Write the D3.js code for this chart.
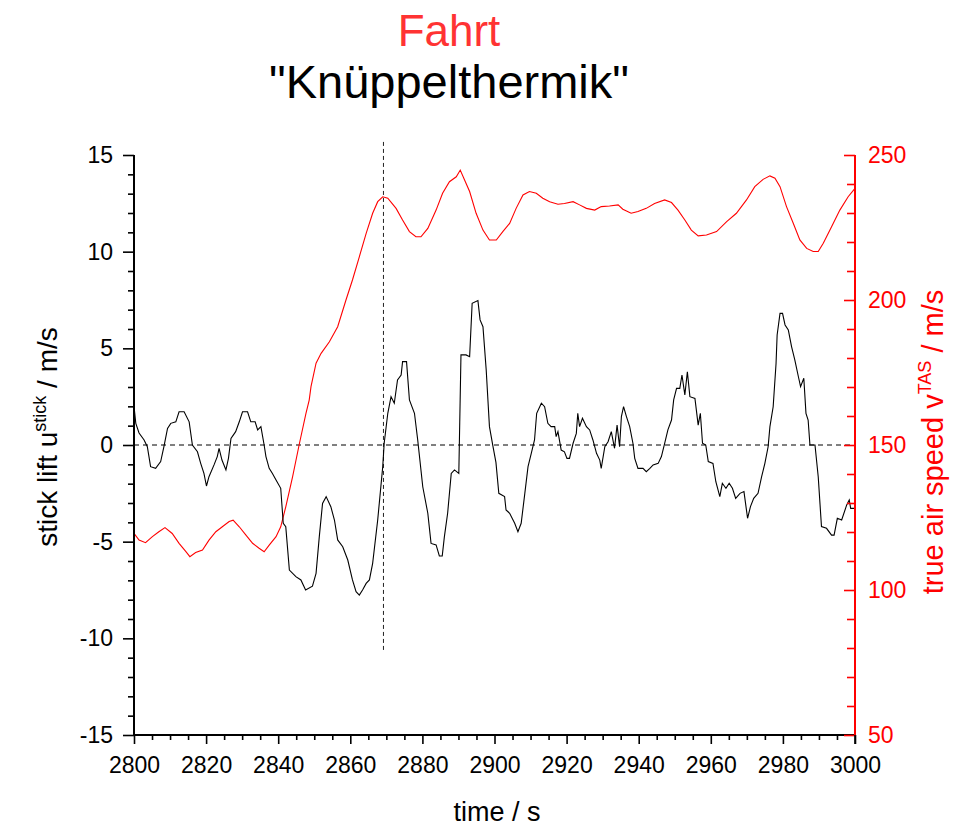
<!DOCTYPE html>
<html>
<head>
<meta charset="utf-8">
<script src="https://cdn.jsdelivr.net/npm/d3@7"></script>
<style>
  html, body { margin: 0; padding: 0; background: #fff; }
  svg { display: block; font-family: Arial, "Liberation Sans", sans-serif; }
</style>
</head>
<body>
<svg id="chart" width="953" height="827"></svg>
<script>
// ---------------- data ----------------
const stickTime = [2800.0,2800.5,2801.4,2802.8,2803.7,2804.6,2806.0,2807.4,2808.3,2809.3,2810.2,2811.6,2812.5,2813.9,2815.3,2816.2,2817.6,2818.5,2819.4,2820.1,2820.8,2822.2,2823.1,2823.6,2824.4,2825.5,2826.2,2826.9,2828.2,2829.2,2830.1,2831.5,2832.4,2833.6,2834.3,2835.2,2836.1,2836.6,2837.5,2838.4,2839.4,2840.7,2841.4,2842.1,2843.1,2844.9,2846.3,2847.6,2849.5,2850.5,2851.4,2852.3,2853.3,2854.6,2855.6,2856.5,2857.9,2859.3,2860.6,2861.6,2862.5,2863.4,2864.4,2865.3,2866.2,2867.6,2869.0,2869.4,2870.4,2871.3,2872.2,2873.1,2874.1,2874.5,2875.6,2876.4,2877.8,2878.7,2880.1,2881.5,2882.4,2883.8,2884.7,2885.5,2886.1,2887.0,2888.0,2888.9,2890.1,2890.7,2892.1,2893.1,2893.8,2895.4,2896.0,2896.8,2897.7,2898.6,2899.6,2900.4,2901.2,2902.8,2903.2,2904.2,2905.6,2906.5,2907.4,2908.3,2909.3,2910.2,2911.1,2911.7,2913.0,2913.9,2914.8,2915.7,2916.7,2917.1,2917.6,2918.5,2919.4,2920.1,2920.8,2921.8,2922.7,2923.1,2923.6,2924.4,2925.5,2926.4,2927.3,2928.3,2929.2,2929.6,2930.6,2931.5,2932.4,2933.3,2934.0,2934.7,2935.2,2935.8,2936.6,2937.5,2938.4,2938.9,2939.8,2941.2,2942.1,2943.1,2944.0,2945.4,2946.3,2947.2,2948.1,2949.1,2949.7,2950.5,2951.4,2952.0,2952.8,2953.5,2954.2,2955.6,2956.5,2957.1,2957.7,2958.6,2959.3,2960.6,2961.4,2962.5,2963.2,2964.2,2965.1,2966.0,2966.9,2968.1,2969.2,2970.2,2971.0,2971.9,2973.1,2974.1,2975.0,2975.9,2976.4,2977.3,2978.1,2978.4,2979.2,2979.9,2980.6,2981.5,2982.4,2983.3,2984.3,2984.9,2985.8,2986.4,2987.0,2987.5,2988.9,2989.8,2990.7,2992.1,2993.5,2994.2,2995.1,2996.3,2997.7,2998.4,2998.8,3000.0];
const stickLift = [2.0,1.12,0.62,0.26,-0.09,-1.12,-1.21,-0.86,-0.09,0.86,1.12,1.2,1.72,1.72,1.2,0.0,-0.35,-0.95,-1.47,-2.12,-1.64,-1.03,-0.6,-0.17,-0.78,-1.29,-0.69,0.34,0.69,1.2,1.72,1.72,1.2,1.2,0.78,0.95,0.0,-0.6,-1.21,-1.47,-1.81,-2.24,-4.05,-4.22,-6.47,-6.81,-6.98,-7.5,-7.3,-6.64,-4.74,-3.02,-2.67,-3.19,-3.88,-4.91,-5.26,-5.95,-6.98,-7.59,-7.76,-7.5,-7.16,-6.98,-6.12,-3.88,-1.12,0.09,1.64,2.5,2.16,3.36,3.62,4.31,4.31,2.33,1.64,0.26,-2.16,-3.53,-5.09,-5.17,-5.74,-5.74,-4.74,-3.53,-1.47,-1.29,-1.47,4.66,4.66,4.57,7.33,7.47,6.47,6.12,3.88,0.95,-0.1,-0.9,-2.5,-2.67,-3.36,-3.53,-4.05,-4.48,-4.05,-2.67,-1.12,-0.43,0.26,1.64,2.16,1.98,1.12,0.95,0.95,0.43,0.69,-0.26,-0.35,-0.69,-0.69,0.09,0.6,1.64,0.95,1.38,0.95,0.78,0.26,-0.43,-0.78,-1.21,-0.09,0.17,0.69,-0.17,1.03,-0.09,1.47,1.98,1.47,0.95,0.09,-0.69,-1.21,-1.21,-1.38,-1.21,-1.03,-0.95,-0.6,0.09,0.78,1.29,2.33,2.93,2.93,3.62,2.59,3.79,2.5,2.41,1.03,1.64,0.09,0.0,-0.86,-0.95,-1.9,-2.67,-1.98,-2.24,-1.98,-2.24,-2.76,-2.5,-2.41,-3.79,-3.19,-2.76,-2.5,-1.64,-0.95,-0.09,0.95,1.98,4.22,5.69,6.81,6.81,6.21,5.95,5.09,4.4,3.53,3.02,3.45,1.64,1.29,0.0,0.0,-1.64,-4.22,-4.31,-4.66,-4.66,-3.79,-3.88,-3.1,-2.84,-3.28,-3.28];

const tasTime = [2800.0,2801.4,2803.2,2805.1,2806.9,2808.6,2810.6,2812.5,2814.4,2815.5,2817.1,2819.0,2820.8,2822.7,2824.5,2826.4,2827.5,2829.2,2831.0,2832.9,2834.7,2836.1,2837.5,2839.4,2840.7,2842.1,2844.0,2845.8,2847.7,2848.6,2849.1,2850.5,2851.9,2854.2,2856.5,2858.8,2860.6,2862.5,2864.4,2866.2,2867.6,2869.0,2870.4,2872.7,2874.5,2876.4,2878.2,2879.6,2881.5,2883.8,2885.6,2887.5,2889.4,2890.5,2891.7,2893.1,2894.9,2896.8,2898.6,2900.5,2902.3,2904.2,2906.0,2907.9,2909.7,2911.6,2913.4,2915.3,2917.6,2919.4,2921.8,2923.6,2925.5,2927.8,2929.6,2931.9,2934.3,2935.6,2937.9,2939.8,2942.1,2944.4,2947.2,2949.1,2950.9,2952.8,2954.6,2956.5,2958.8,2961.6,2964.4,2967.1,2969.9,2972.2,2974.5,2976.4,2977.8,2979.2,2981.0,2982.9,2984.7,2986.6,2988.4,2989.8,2991.2,2993.5,2995.8,2998.1,3000.0];
const tasSpeed = [119.5,117.2,116.3,118.4,120.1,121.5,119.5,116.1,113.2,111.5,112.9,113.8,117.2,120.1,121.8,123.6,124.1,121.8,119.0,116.1,114.4,113.2,115.5,118.4,121.8,128.7,139.1,150.0,160.9,165.5,170.1,178.2,181.6,185.6,190.8,200.0,206.9,214.9,223.0,229.9,233.9,235.6,235.1,231.6,227.6,223.6,221.8,221.8,224.7,231.0,236.8,240.8,242.5,244.8,241.4,237.4,229.9,224.1,220.7,220.7,223.6,226.4,231.6,236.2,237.4,236.8,235.1,233.9,233.0,233.3,233.9,232.8,231.6,231.0,232.2,232.4,232.8,231.3,229.9,230.5,231.6,233.3,234.5,233.6,231.0,227.6,224.1,222.1,222.4,223.6,227.0,229.9,234.5,239.1,241.6,242.8,242.0,239.1,232.2,226.4,220.7,217.8,216.7,216.7,219.6,225.3,231.0,235.6,238.5];

const markerTime = 2869.2;            // vertical dashed marker
const markerRange = [-10.6, 15.8];     // its extent in stick-lift units

const xTicks = [2800,2820,2840,2860,2880,2900,2920,2940,2960,2980,3000];
const yLeftTicks = [-15,-10,-5,0,5,10,15];
const yRightTicks = [50,100,150,200,250];

const titleTop = "Fahrt";
const titleMain = "\"Knüppelthermik\"";

// ---------------- layout ----------------
const svg = d3.select("#chart");
const L = 134, R = 855, T = 155, B = 735;
const RED = "#ff0000";
const fmt = d => String(d);   // plain hyphen-minus as in the original

const x = d3.scaleLinear().domain([2800, 3000]).range([L, R]);
const yL = d3.scaleLinear().domain([-15, 15]).range([B, T]);
const yR = d3.scaleLinear().domain([50, 250]).range([B, T]);

const stick = stickTime.map((t, i) => [t, stickLift[i]]);
const tas = tasTime.map((t, i) => [t, tasSpeed[i]]);

// zero dashed line
svg.append("line")
  .attr("x1", x(2800)).attr("x2", x(3000))
  .attr("y1", yL(0)).attr("y2", yL(0))
  .attr("stroke", "#000").attr("stroke-width", 1)
  .attr("stroke-dasharray", "5,4");

// vertical marker
svg.append("line")
  .attr("x1", x(markerTime)).attr("x2", x(markerTime))
  .attr("y1", yL(markerRange[0])).attr("y2", yL(markerRange[1]))
  .attr("stroke", "#222").attr("stroke-width", 1)
  .attr("stroke-dasharray", "4,3");

// lines
svg.append("path").datum(tas)
  .attr("fill", "none").attr("stroke", RED).attr("stroke-width", 1.1)
  .attr("d", d3.line().x(d => x(d[0])).y(d => yR(d[1])));

svg.append("path").datum(stick)
  .attr("fill", "none").attr("stroke", "#000").attr("stroke-width", 1.1)
  .attr("d", d3.line().x(d => x(d[0])).y(d => yL(d[1])));

// ---------------- axes ----------------
function styleAxis(g, color, fs) {
  g.select(".domain").remove();
  g.selectAll("line").attr("stroke", color).attr("stroke-width", 1.6);
  g.selectAll("text").attr("fill", color).style("font-size", fs + "px")
    .style("font-family", "Arial, 'Liberation Sans', sans-serif");
}

// bottom axis
const xMinor = d3.range(2800, 3001, 5).filter(v => v % 20 !== 0);
svg.append("g").attr("transform", `translate(0,${B})`)
  .call(d3.axisBottom(x).tickValues(xMinor).tickSize(5).tickFormat(""))
  .call(g => styleAxis(g, "#000", 23));
svg.append("g").attr("transform", `translate(0,${B})`)
  .call(d3.axisBottom(x).tickValues(xTicks).tickSize(9).tickPadding(13).tickFormat(fmt))
  .call(g => styleAxis(g, "#000", 23));
svg.append("line").attr("x1", L).attr("x2", R).attr("y1", B).attr("y2", B)
  .attr("stroke", "#000").attr("stroke-width", 2);

// left axis
const yLMinor = d3.range(-15, 16, 1).filter(v => v % 5 !== 0);
svg.append("g").attr("transform", `translate(${L},0)`)
  .call(d3.axisLeft(yL).tickValues(yLMinor).tickSize(6).tickFormat(""))
  .call(g => styleAxis(g, "#000", 23));
svg.append("g").attr("transform", `translate(${L},0)`)
  .call(d3.axisLeft(yL).tickValues(yLeftTicks).tickSize(11).tickPadding(10).tickFormat(fmt))
  .call(g => styleAxis(g, "#000", 23));
svg.append("line").attr("x1", L).attr("x2", L).attr("y1", T).attr("y2", B + 1)
  .attr("stroke", "#000").attr("stroke-width", 2);

// right axis (ticks pointing inward)
const yRMinor = d3.range(50, 251, 10).filter(v => v % 50 !== 0);
svg.append("g").attr("transform", `translate(${R},0)`)
  .call(d3.axisRight(yR).tickValues(yRMinor).tickSizeInner(-8).tickSizeOuter(0).tickFormat(""))
  .call(g => styleAxis(g, RED, 23));
svg.append("g").attr("transform", `translate(${R},0)`)
  .call(d3.axisRight(yR).tickValues(yRightTicks).tickSizeInner(-11).tickSizeOuter(0).tickPadding(13).tickFormat(fmt))
  .call(g => styleAxis(g, RED, 23));
svg.append("line").attr("x1", R).attr("x2", R).attr("y1", T).attr("y2", B + 1)
  .attr("stroke", RED).attr("stroke-width", 2);
// small black tick at 3000 below axis
svg.append("line").attr("x1", R).attr("x2", R).attr("y1", B).attr("y2", B + 9)
  .attr("stroke", "#000").attr("stroke-width", 1.6);

// ---------------- titles / labels ----------------
svg.append("text").attr("x", 449).attr("y", 46).attr("text-anchor", "middle")
  .attr("fill", "#ff3333").style("font-size", "44px").text(titleTop);
svg.append("text").attr("x", 449).attr("y", 98).attr("text-anchor", "middle")
  .attr("fill", "#000").style("font-size", "47px").text(titleMain);

// x label
svg.append("text").attr("x", 497).attr("y", 821).attr("text-anchor", "middle")
  .attr("fill", "#000").style("font-size", "27px").text("time / s");

// left y label
const lt = svg.append("text").attr("transform", "translate(57,437) rotate(-90)")
  .attr("text-anchor", "middle").attr("fill", "#000").style("font-size", "28px");
lt.append("tspan").text("stick lift u");
lt.append("tspan").attr("dy", -11).style("font-size", "18px").text("stick");
lt.append("tspan").attr("dy", 11).text(" / m/s");

// right y label
const rt = svg.append("text").attr("transform", "translate(943,442) rotate(-90)")
  .attr("text-anchor", "middle").attr("fill", RED).style("font-size", "29px");
rt.append("tspan").text("true air speed v");
rt.append("tspan").attr("dy", -12).style("font-size", "18px").text("TAS");
rt.append("tspan").attr("dy", 12).text(" / m/s");
</script>
</body>
</html>
